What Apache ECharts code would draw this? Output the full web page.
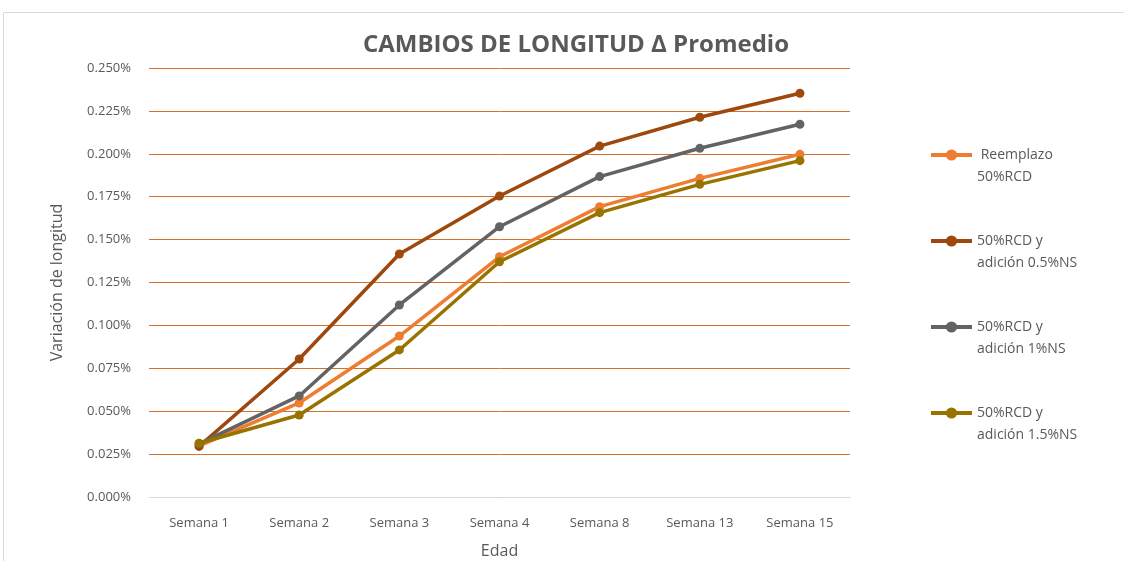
<!DOCTYPE html>
<html>
<head>
<meta charset="utf-8">
<script src="https://cdn.jsdelivr.net/npm/echarts@6/dist/echarts.min.js"></script>
<style>
  html, body { margin: 0; padding: 0; background: #fff; }
  #container { width: 1124px; height: 561px; }
</style>
</head>
<body>
<div id="container"></div>
<script>
// datos (variacion en %)
var semanas = ['Semana 1', 'Semana 2', 'Semana 3', 'Semana 4', 'Semana 8', 'Semana 13', 'Semana 15'];
var reemplazo50 = [0.0298, 0.0548, 0.0938, 0.1400, 0.1692, 0.1857, 0.1997];
var ns05 = [0.0295, 0.0804, 0.1416, 0.1754, 0.2045, 0.2213, 0.2353];
var ns1 = [0.0310, 0.0589, 0.1119, 0.1575, 0.1867, 0.2032, 0.2172];
var ns15 = [0.0313, 0.0478, 0.0857, 0.1371, 0.1657, 0.1822, 0.1960];
var nombres = [' Reemplazo\n50%RCD', '50%RCD y\nadición 0.5%NS', '50%RCD y\nadición 1%NS', '50%RCD y\nadición 1.5%NS'];
var colores = ['#ED7D31', '#9E480E', '#636363', '#997300'];

var dom = document.getElementById("container");
var myChart = echarts.init(dom);

function serie(nombre, datos, color) {
    return {
        name: nombre,
        type: 'line',
        data: datos,
        symbol: 'circle',
        symbolSize: 9,
        lineStyle: { width: 3.5, color: color },
        itemStyle: { color: color },
        animation: false
    };
}

var option = {
    color: colores,
    title: {
        text: 'CAMBIOS DE LONGITUD Δ Promedio',
        left: 571,
        textAlign: 'center',
        top: 28,
        textStyle: {
            fontFamily: 'Open Sans',
            fontSize: 24,
            fontWeight: 'bold',
            color: '#595959'
        }
    },
    graphic: [{
        type: 'rect',
        shape: { x: 3.5, y: 12.5, width: 1130, height: 560 },
        style: { fill: 'none', stroke: '#D9D9D9', lineWidth: 1 },
        silent: true
    }],
    legend: {
        orient: 'vertical',
        left: 924,
        top: 117,
        itemWidth: 41,
        itemHeight: 14,
        itemGap: 20,
        itemStyle: { borderWidth: 0 },
        lineStyle: { width: 4 },
        // linea vacia arriba para que el icono quede con la primera linea
        formatter: function (name) { return '\n' + name; },
        textStyle: {
            fontFamily: 'Open Sans',
            fontSize: 14,
            color: '#595959',
            lineHeight: 22
        },
        data: nombres
    },
    grid: {
        left: 149,
        right: 274,
        top: 68,
        bottom: 64,
        outerBoundsMode: 'none'
    },
    xAxis: {
        type: 'category',
        data: semanas,
        boundaryGap: true,
        name: 'Edad',
        nameLocation: 'middle',
        nameGap: 46,
        nameTextStyle: { fontFamily: 'Open Sans', fontSize: 16, color: '#595959' },
        axisLine: { lineStyle: { color: '#D9D9D9', width: 1 } },
        axisTick: { show: false },
        axisLabel: { fontFamily: 'Open Sans', fontSize: 13, color: '#595959', margin: 20 }
    },
    yAxis: {
        type: 'value',
        min: 0,
        max: 0.25,
        interval: 0.025,
        name: 'Variación de longitud',
        nameLocation: 'middle',
        nameGap: 84,
        nameTextStyle: { fontFamily: 'Open Sans', fontSize: 16, color: '#595959' },
        axisLine: { show: false },
        axisTick: { show: false },
        axisLabel: {
            fontFamily: 'Open Sans',
            fontSize: 13,
            color: '#595959',
            margin: 18,
            formatter: function (v) { return v.toFixed(3) + '%'; }
        },
        splitLine: { lineStyle: { color: '#D5702A', width: 1 } }
    },
    series: [
        serie(nombres[0], reemplazo50, colores[0]),
        serie(nombres[1], ns05, colores[1]),
        serie(nombres[2], ns1, colores[2]),
        serie(nombres[3], ns15, colores[3])
    ]
};
myChart.setOption(option, true);
</script>
</body>
</html>
